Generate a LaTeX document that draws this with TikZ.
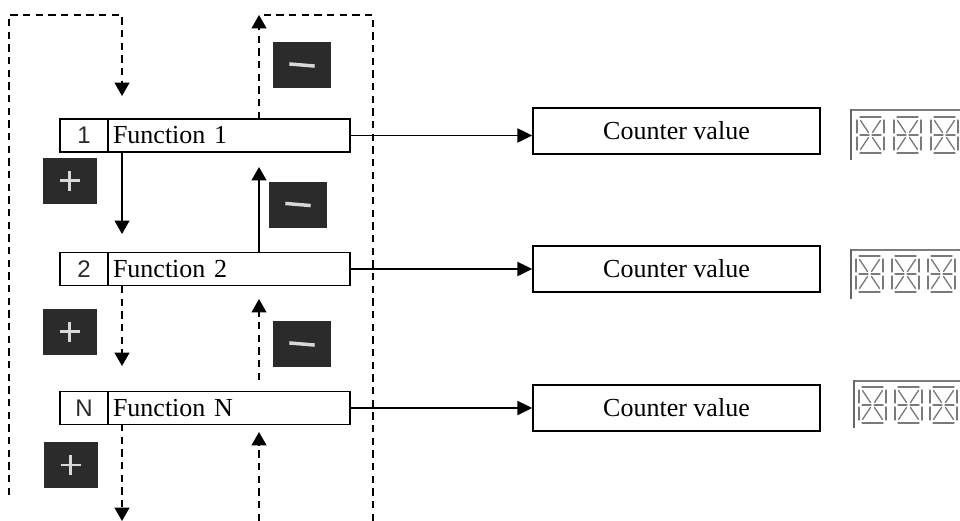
\documentclass[tikz,border=0pt]{standalone}
\usepackage{fontspec}
\setmainfont{Liberation Serif}
\newfontfamily\numfont{Liberation Sans}
\usetikzlibrary{arrows.meta}
\definecolor{pmdark}{HTML}{2B2B2B}
\definecolor{pmsign}{HTML}{D8D8D8}
\definecolor{seggray}{HTML}{7A7A7A}
\definecolor{framegray}{HTML}{666666}
\definecolor{numcol}{HTML}{2A2A2A}
\newcommand\segdigit[2]{%
  \begin{scope}[shift={(#1,#2)}]
    \draw[seg] (3,0)--(24,0);
    \draw[seg] (3,36)--(24,36);
    \draw[seg] (0,3)--(0,16);
    \draw[seg] (0,20)--(0,33);
    \draw[seg] (27,3)--(27,16);
    \draw[seg] (27,20)--(27,33);
    \draw[seg] (3,18)--(12,18);
    \draw[seg] (15,18)--(24,18);
    \draw[seg] (3.5,3.5)--(11.5,15.5);
    \draw[seg] (23.5,3.5)--(15.5,15.5);
    \draw[seg] (3.5,32.5)--(11.5,20.5);
    \draw[seg] (23.5,32.5)--(15.5,20.5);
  \end{scope}}
\tikzset{
  seg/.style={draw=seggray, line width=1pt, line cap=round},
  frameL/.style={draw=framegray, line width=2pt},
  frameT/.style={draw=framegray!85, line width=1.4pt},
  cellbase/.style={draw, line width=1.3pt, minimum height=24.75pt, inner sep=0pt},
  numcell/.style={cellbase, minimum width=36pt, font=\numfont\fontsize{18}{20}\selectfont, text=numcol},
  funcell/.style={cellbase, minimum width=181.5pt, text width=174pt, align=left, inner xsep=3.75pt,
    font=\fontsize{19.5}{22}\selectfont},
  cntbox/.style={draw, line width=1.3pt, minimum width=215.25pt, minimum height=34pt, inner sep=0pt,
    font=\fontsize{19.5}{22}\selectfont},
  pmbox/.style={fill=pmdark, minimum width=40.5pt, minimum height=34.5pt, inner sep=0pt},
  plusbox/.style={pmbox, path picture={
    \draw[pmsign, line width=2.2pt] ([xshift=-7.5pt]path picture bounding box.center) -- ([xshift=7.5pt]path picture bounding box.center);
    \draw[pmsign, line width=2.2pt] ([yshift=-7.5pt]path picture bounding box.center) -- ([yshift=7.5pt]path picture bounding box.center);}},
  minusbox/.style={pmbox, minimum width=43.5pt, path picture={
    \draw[pmsign, line width=2.6pt] ([xshift=-9.5pt,yshift=0.8pt]path picture bounding box.center) -- ([xshift=9.5pt,yshift=-0.8pt]path picture bounding box.center);}},
  dline/.style={line width=1.4pt, dash pattern=on 5.5pt off 4pt},
  darr/.style={dline, -{Triangle[length=10pt,width=11pt]}},
  sarr/.style={line width=1.4pt, -{Triangle[length=10pt,width=11pt]}},
  harr/.style={line width=1.4pt, -{Triangle[length=11pt,width=10.5pt]}},
}
\begin{document}
\begin{tikzpicture}[x=0.75pt,y=-0.75pt]
\useasboundingbox (0,0) rectangle (960,521);
\clip (0,0) rectangle (960,521);

% function rows
\node[numcell] (n1) at (84,135.5) {1};
\node[funcell] (f1) at (229,135.5) {Function 1};
\node[numcell] (n2) at (84,269) {2};
\node[funcell] (f2) at (229,269) {Function 2};
\node[numcell] (n3) at (84,408) {N};
\node[funcell] (f3) at (229,408) {Function N};

% counter boxes
\node[cntbox] (c1) at (676.5,131) {Counter value};
\node[cntbox] (c2) at (676.5,269) {Counter value};
\node[cntbox] (c3) at (676.5,408) {Counter value};

% plus / minus buttons
\node[plusbox] (p1) at (69.5,180.5) {};
\node[plusbox] (p2) at (69.5,331.5) {};
\node[plusbox] (p3) at (70.5,465) {};
\node[minusbox] (m1) at (302,65) {};
\node[minusbox] (m2) at (298,204.5) {};
\node[minusbox] (m3) at (302,344) {};

% horizontal arrows
\draw[harr] (f1.east) -- (f1.east -| c1.west);
\draw[harr] (f2.east) -- (c2.west);
\draw[harr] (f3.east) -- (c3.west);

% coordinates for loops
\coordinate (lb) at (9,495);
\coordinate (lt) at (9,15);
\coordinate (ltr) at (122,15);
\coordinate (a0) at (122,96);
\coordinate (rt) at (259,15);
\coordinate (rtr) at (373,15);
\coordinate (rb) at (373,521);
\coordinate (f1d) at (122,152);
\coordinate (a1) at (122,234);
\coordinate (f2u) at (259,252);
\coordinate (a1u) at (259,167);
\coordinate (f2d) at (122,286);
\coordinate (a2) at (122,366);
\coordinate (s2u) at (259,380);
\coordinate (a2u) at (259,299);
\coordinate (f3d) at (122,424);
\coordinate (a3) at (122,521);
\coordinate (s3u) at (259,521);
\coordinate (a3u) at (259,432);
\coordinate (f1u) at (259,119);

% left (+) loop
\draw[darr] (lb) -- (lt) -- (ltr) -- (a0);
% right (-) loop
\draw[dline] (rb) -- (rtr) -- (rt);
\draw[darr] (f1u) -- (rt);

% between rows
\draw[sarr] (f1d) -- (a1);
\draw[sarr] (f2u) -- (a1u);
\draw[darr] (f2d) -- (a2);
\draw[darr] (s2u) -- (a2u);
\draw[darr] (f3d) -- (a3);
\draw[darr] (s3u) -- (a3u);

% displays
\draw[frameT] (851,110) -- (960,110);
\draw[frameL] (851,160) -- (851,109);
\segdigit{857}{117}\segdigit{894}{117}\segdigit{931}{117}
\draw[frameT] (851,250) -- (960,250);
\draw[frameL] (851,299) -- (851,249);
\segdigit{856}{256}\segdigit{892}{256}\segdigit{928}{256}
\draw[frameT] (854,381) -- (960,381);
\draw[frameL] (854,428) -- (854,380);
\segdigit{859}{387}\segdigit{895}{387}\segdigit{930}{387}
\end{tikzpicture}
\end{document}
